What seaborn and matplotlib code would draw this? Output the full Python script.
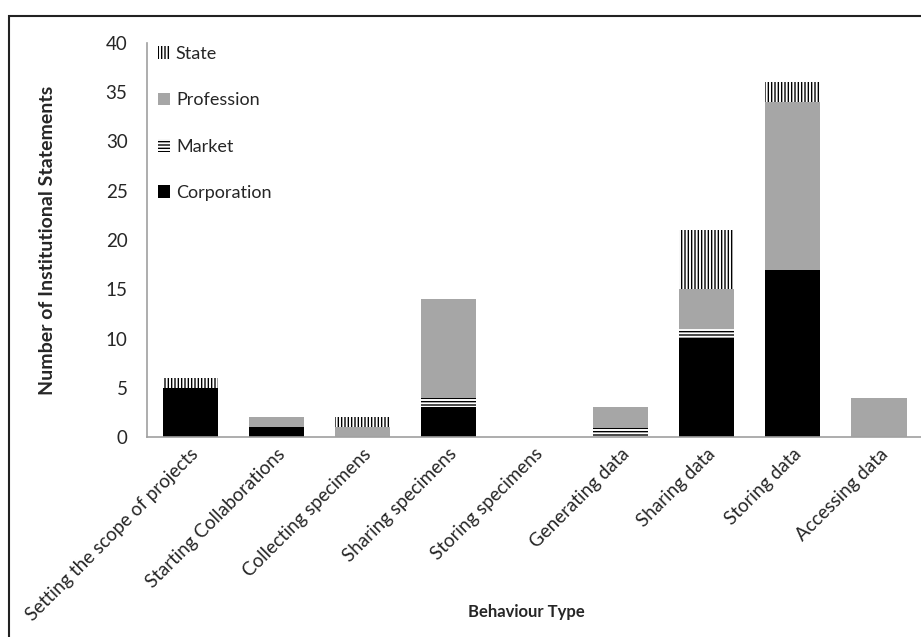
import numpy as np
import pandas as pd
import matplotlib
matplotlib.use("Agg")
import matplotlib.pyplot as plt
import matplotlib.patches as mpatches
import seaborn as sns

sns.set_theme(style="white")
plt.rcParams['font.family'] = ['Lato', 'DejaVu Sans']
plt.rcParams['hatch.linewidth'] = 1.0

# data
behaviours = ['Setting the scope of projects', 'Starting Collaborations',
              'Collecting specimens', 'Sharing specimens', 'Storing specimens',
              'Generating data', 'Sharing data', 'Storing data', 'Accessing data']
corporation = [5, 1, 0, 3, 0, 0, 10, 17, 0]
market = [0, 0, 0, 1, 0, 1, 1, 0, 0]
profession = [0, 1, 1, 10, 0, 2, 4, 17, 4]
state = [1, 0, 1, 0, 0, 0, 6, 2, 0]

df = pd.DataFrame({'behaviour': behaviours, 'Corporation': corporation,
                   'Market': market, 'Profession': profession, 'State': state})
df['c1'] = df['Corporation']
df['c2'] = df['c1'] + df['Market']
df['c3'] = df['c2'] + df['Profession']
df['c4'] = df['c3'] + df['State']

# style per series: (facecolor, hatch)
styles = {
    'State': ('white', '|||||'),
    'Profession': ('#a6a6a6', None),
    'Market': ('white', '-----'),
    'Corporation': ('black', None),
}

fig = plt.figure(figsize=(9.21, 6.37), dpi=100)
ax = fig.add_axes([147 / 921, 1 - 437 / 637, 775 / 921, (437 - 43) / 637])

# stacked bars by overdrawing cumulative totals, top layer first
for col, name in [('c4', 'State'), ('c3', 'Profession'), ('c2', 'Market'), ('c1', 'Corporation')]:
    fc, hatch = styles[name]
    sns.barplot(data=df, x='behaviour', y=col, color=fc, saturation=1, width=0.64,
                hatch=hatch, edgecolor='black', linewidth=0, ax=ax)

ax.set_ylim(0, 40)
ax.set_xlim(-0.5, len(behaviours) - 0.5)
ax.set_yticks(range(0, 41, 5))
ax.tick_params(axis='y', labelsize=13.5, pad=14, length=0)
ax.tick_params(axis='x', labelsize=13.5, pad=6, length=0)
plt.setp(ax.get_xticklabels(), rotation=45, ha='right', rotation_mode='anchor')

for s in ['top', 'right']:
    ax.spines[s].set_visible(False)
for s in ['left', 'bottom']:
    ax.spines[s].set_color('#a0a0a0')
    ax.spines[s].set_linewidth(1.2)

ax.set_xlabel('Behaviour Type', fontsize=12, fontweight='bold')
ax.xaxis.set_label_coords(0.49, -0.425)
ax.set_ylabel('Number of Institutional Statements', fontsize=14, fontweight='bold', labelpad=36)

handles = []
for name in ['State', 'Profession', 'Market', 'Corporation']:
    fc, hatch = styles[name]
    handles.append(mpatches.Patch(facecolor=fc, hatch=hatch, edgecolor='black',
                                  linewidth=0, label=name))
ax.legend(handles=handles, loc='upper left', bbox_to_anchor=(0.0, 1.02), frameon=False,
          fontsize=13, labelspacing=1.68, handlelength=0.7, handleheight=0.7,
          handletextpad=0.3, borderaxespad=0.2)

# outer frame of the figure
frame = mpatches.Rectangle((9 / 921, -0.1), 1.2, 1 - 16 / 637 + 0.1, transform=fig.transFigure,
                           fill=False, edgecolor='#222222', linewidth=1.5, clip_on=False)
fig.patches.append(frame)

fig.savefig('out.png', dpi=100)
